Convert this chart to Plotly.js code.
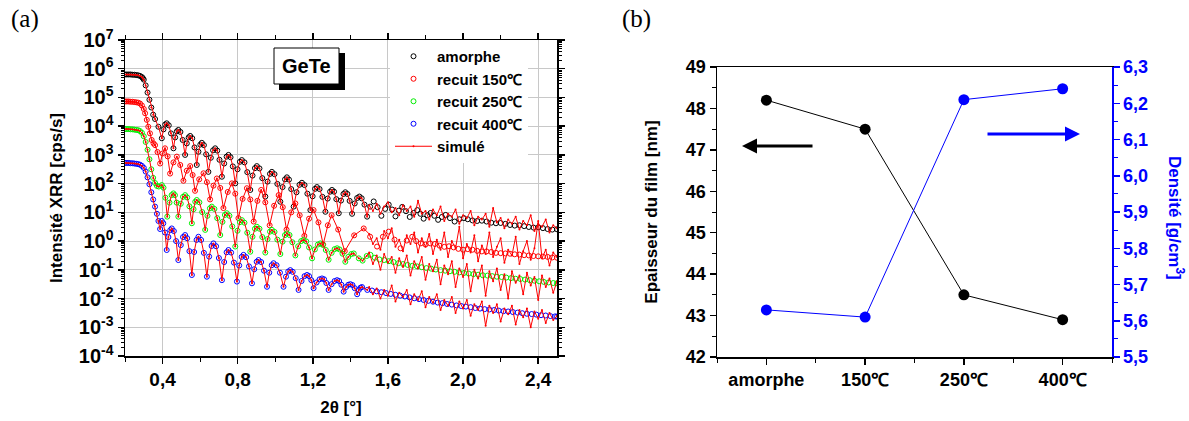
<!DOCTYPE html>
<html>
<head>
<meta charset="utf-8">
<script src="https://cdn.plot.ly/plotly-3.0.1.min.js"></script>
<style>html,body{margin:0;padding:0;background:#fff;}#chart{width:1189px;height:421px;}</style>
</head>
<body>
<div id="chart"></div>
<script>
// ---------- Panel (a) : XRR curves, pairs [2θ (°), log10(intensity cps/s)] ----------
const amorphe = [[0.20,5.80],[0.21,5.80],[0.22,5.80],[0.23,5.80],[0.24,5.79],[0.25,5.79],[0.26,5.78],[0.27,5.77],[0.28,5.75],[0.29,5.71],[0.295,5.67],[0.30,5.62],[0.31,5.42],[0.32,5.17],[0.33,4.92],[0.34,4.65],[0.35,4.40],[0.36,4.25],[0.378,3.98],[0.396,3.58],[0.405,3.89],[0.414,4.06],[0.422,4.10],[0.433,4.03],[0.445,3.75],[0.458,3.23],[0.467,3.61],[0.476,3.82],[0.484,3.87],[0.495,3.80],[0.507,3.52],[0.52,3.00],[0.529,3.40],[0.539,3.61],[0.547,3.66],[0.558,3.58],[0.57,3.26],[0.582,2.65],[0.591,3.11],[0.601,3.36],[0.609,3.42],[0.62,3.34],[0.632,3.02],[0.644,2.41],[0.657,2.90],[0.669,3.16],[0.68,3.23],[0.691,3.15],[0.703,2.83],[0.716,2.24],[0.728,2.70],[0.741,2.94],[0.751,3.00],[0.762,2.92],[0.774,2.60],[0.787,2.01],[0.799,2.50],[0.812,2.76],[0.822,2.82],[0.836,2.74],[0.851,2.40],[0.867,1.78],[0.879,2.28],[0.892,2.54],[0.902,2.61],[0.916,2.53],[0.931,2.19],[0.947,1.55],[0.959,2.07],[0.972,2.34],[0.982,2.41],[0.996,2.33],[1.011,1.99],[1.027,1.37],[1.039,1.88],[1.052,2.15],[1.062,2.22],[1.073,2.14],[1.085,1.81],[1.098,1.20],[1.113,1.70],[1.129,1.96],[1.142,2.03],[1.156,1.95],[1.171,1.65],[1.187,1.08],[1.199,1.56],[1.212,1.82],[1.222,1.88],[1.236,1.81],[1.251,1.54],[1.267,1.02],[1.279,1.48],[1.292,1.72],[1.302,1.78],[1.313,1.72],[1.325,1.46],[1.338,0.97],[1.35,1.41],[1.363,1.64],[1.373,1.70],[1.384,1.64],[1.396,1.40],[1.409,0.95],[1.423,1.31],[1.436,1.50],[1.448,1.55],[1.46,1.49],[1.475,1.27],[1.489,0.85],[1.505,1.20],[1.524,1.38],[1.545,1.18],[1.565,0.88],[1.585,1.12],[1.604,1.27],[1.622,1.10],[1.64,0.86],[1.658,1.06],[1.676,1.19],[1.696,1.04],[1.716,0.84],[1.736,0.98],[1.756,1.08],[1.773,0.95],[1.79,0.78],[1.81,0.90],[1.827,0.98],[1.847,0.88],[1.867,0.74],[1.887,0.84],[1.907,0.91],[1.93,0.80],[1.955,0.68],[1.98,0.76],[2.004,0.80],[2.025,0.76],[2.05,0.72],[2.075,0.70],[2.10,0.71],[2.125,0.68],[2.15,0.64],[2.175,0.62],[2.20,0.63],[2.225,0.60],[2.25,0.56],[2.275,0.54],[2.30,0.55],[2.325,0.52],[2.35,0.49],[2.375,0.47],[2.40,0.48],[2.425,0.45],[2.45,0.42],[2.475,0.40],[2.50,0.41]];

const recuit150 = [[0.20,4.86],[0.21,4.86],[0.22,4.86],[0.23,4.85],[0.24,4.85],[0.25,4.84],[0.26,4.83],[0.27,4.82],[0.28,4.79],[0.29,4.72],[0.30,4.60],[0.307,4.45],[0.316,4.22],[0.324,3.98],[0.333,3.75],[0.342,3.52],[0.352,3.40],[0.36,3.34],[0.373,3.10],[0.387,2.70],[0.40,3.05],[0.413,3.23],[0.427,2.95],[0.44,2.35],[0.458,2.74],[0.476,2.94],[0.494,2.65],[0.511,2.10],[0.529,2.45],[0.547,2.61],[0.56,2.30],[0.573,1.75],[0.595,2.15],[0.618,2.36],[0.636,2.05],[0.653,1.45],[0.671,1.93],[0.689,2.18],[0.707,1.85],[0.724,1.15],[0.747,1.71],[0.769,2.01],[0.787,1.65],[0.804,0.80],[0.826,1.47],[0.849,1.84],[0.867,1.45],[0.885,0.68],[0.905,1.40],[0.925,1.78],[0.947,1.35],[0.97,0.55],[0.994,1.23],[1.018,1.60],[1.04,1.18],[1.06,0.40],[1.085,1.00],[1.107,1.31],[1.13,0.90],[1.155,0.18],[1.18,0.78],[1.204,1.08],[1.23,0.65],[1.255,-0.12],[1.28,0.55],[1.30,0.90],[1.335,0.40],[1.37,-0.35],[1.42,0.20],[1.471,0.44],[1.505,0.15],[1.542,-0.19],[1.573,0.15],[1.604,0.33],[1.635,0.05],[1.667,-0.25],[1.70,0.02],[1.729,0.15],[1.75,0.00],[1.775,-0.08],[1.80,-0.12],[1.825,-0.08],[1.85,-0.10],[1.875,-0.16],[1.90,-0.20],[1.925,-0.18],[1.95,-0.22],[1.975,-0.27],[2.00,-0.30],[2.025,-0.28],[2.05,-0.30],[2.075,-0.34],[2.10,-0.36],[2.125,-0.36],[2.15,-0.38],[2.175,-0.41],[2.20,-0.42],[2.225,-0.43],[2.25,-0.44],[2.275,-0.46],[2.30,-0.47],[2.325,-0.49],[2.35,-0.50],[2.375,-0.52],[2.40,-0.53],[2.425,-0.54],[2.45,-0.55],[2.475,-0.57],[2.50,-0.58]];

const recuit250 = [[0.20,3.90],[0.21,3.90],[0.22,3.90],[0.23,3.89],[0.24,3.89],[0.25,3.88],[0.26,3.87],[0.27,3.86],[0.28,3.83],[0.29,3.77],[0.30,3.65],[0.31,3.45],[0.32,3.18],[0.33,2.85],[0.34,2.50],[0.35,2.20],[0.36,2.02],[0.37,1.92],[0.38,1.90],[0.396,1.95],[0.405,1.86],[0.415,1.51],[0.425,0.85],[0.437,1.34],[0.448,1.60],[0.458,1.66],[0.466,1.60],[0.475,1.34],[0.484,0.85],[0.497,1.30],[0.509,1.54],[0.52,1.60],[0.531,1.52],[0.543,1.21],[0.556,0.62],[0.565,1.11],[0.574,1.37],[0.582,1.43],[0.596,1.35],[0.611,1.01],[0.627,0.39],[0.639,0.88],[0.652,1.14],[0.662,1.20],[0.676,1.12],[0.691,0.80],[0.707,0.21],[0.719,0.67],[0.732,0.91],[0.742,0.97],[0.756,0.88],[0.771,0.51],[0.787,-0.19],[0.799,0.36],[0.812,0.66],[0.822,0.73],[0.836,0.64],[0.851,0.29],[0.867,-0.37],[0.879,0.15],[0.892,0.43],[0.902,0.50],[0.916,0.43],[0.931,0.14],[0.947,-0.40],[0.959,0.07],[0.972,0.33],[0.982,0.39],[0.996,0.32],[1.011,0.05],[1.027,-0.45],[1.039,-0.02],[1.052,0.21],[1.062,0.27],[1.076,0.21],[1.091,-0.04],[1.107,-0.50],[1.122,-0.18],[1.138,0.00],[1.151,0.04],[1.165,-0.01],[1.18,-0.22],[1.196,-0.60],[1.211,-0.29],[1.227,-0.12],[1.24,-0.08],[1.253,-0.13],[1.269,-0.31],[1.284,-0.65],[1.30,-0.41],[1.316,-0.28],[1.329,-0.25],[1.342,-0.29],[1.358,-0.44],[1.373,-0.72],[1.389,-0.55],[1.405,-0.45],[1.418,-0.43],[1.445,-0.60],[1.465,-0.68],[1.487,-0.52],[1.507,-0.48],[1.53,-0.58],[1.555,-0.64],[1.58,-0.66],[1.605,-0.70],[1.63,-0.73],[1.655,-0.77],[1.68,-0.80],[1.705,-0.83],[1.73,-0.86],[1.755,-0.88],[1.78,-0.91],[1.805,-0.94],[1.83,-0.96],[1.855,-0.99],[1.88,-1.01],[1.905,-1.03],[1.93,-1.05],[1.955,-1.07],[1.98,-1.09],[2.005,-1.11],[2.03,-1.13],[2.055,-1.15],[2.08,-1.17],[2.105,-1.19],[2.13,-1.20],[2.155,-1.22],[2.18,-1.24],[2.205,-1.25],[2.23,-1.27],[2.255,-1.29],[2.28,-1.31],[2.305,-1.32],[2.33,-1.34],[2.355,-1.36],[2.38,-1.38],[2.405,-1.40],[2.43,-1.42],[2.455,-1.44],[2.48,-1.46],[2.50,-1.47]];

const recuit400 = [[0.20,2.72],[0.21,2.72],[0.22,2.72],[0.23,2.71],[0.24,2.71],[0.25,2.70],[0.26,2.69],[0.27,2.68],[0.28,2.66],[0.29,2.62],[0.30,2.55],[0.31,2.42],[0.32,2.22],[0.33,1.98],[0.34,1.70],[0.35,1.45],[0.36,1.20],[0.37,0.95],[0.378,0.70],[0.387,0.42],[0.396,0.70],[0.404,0.62],[0.413,0.30],[0.422,-0.31],[0.431,0.14],[0.441,0.38],[0.449,0.44],[0.46,0.35],[0.472,0.00],[0.484,-0.66],[0.497,-0.14],[0.509,0.14],[0.52,0.21],[0.531,0.10],[0.543,-0.35],[0.556,-1.18],[0.568,-0.38],[0.581,0.04],[0.591,0.15],[0.605,0.04],[0.62,-0.41],[0.636,-1.24],[0.648,-0.54],[0.661,-0.17],[0.671,-0.08],[0.685,-0.18],[0.70,-0.59],[0.716,-1.36],[0.728,-0.73],[0.741,-0.39],[0.751,-0.31],[0.765,-0.40],[0.78,-0.75],[0.796,-1.41],[0.808,-0.85],[0.821,-0.55],[0.831,-0.48],[0.845,-0.56],[0.86,-0.88],[0.876,-1.47],[0.888,-0.98],[0.901,-0.72],[0.911,-0.66],[0.925,-0.73],[0.94,-1.03],[0.956,-1.59],[0.968,-1.10],[0.981,-0.84],[0.991,-0.77],[1.007,-0.84],[1.025,-1.10],[1.044,-1.59],[1.057,-1.24],[1.069,-1.06],[1.08,-1.01],[1.093,-1.07],[1.109,-1.29],[1.124,-1.70],[1.14,-1.39],[1.156,-1.22],[1.169,-1.18],[1.18,-1.22],[1.192,-1.36],[1.204,-1.64],[1.22,-1.44],[1.236,-1.33],[1.249,-1.30],[1.26,-1.33],[1.272,-1.46],[1.284,-1.70],[1.30,-1.50],[1.316,-1.39],[1.329,-1.36],[1.34,-1.39],[1.352,-1.52],[1.364,-1.76],[1.377,-1.60],[1.389,-1.52],[1.40,-1.50],[1.411,-1.53],[1.423,-1.64],[1.436,-1.85],[1.445,-1.70],[1.454,-1.62],[1.462,-1.60],[1.49,-1.70],[1.515,-1.72],[1.54,-1.75],[1.565,-1.78],[1.59,-1.81],[1.615,-1.84],[1.64,-1.87],[1.665,-1.90],[1.69,-1.93],[1.715,-1.96],[1.74,-1.99],[1.765,-2.02],[1.79,-2.05],[1.815,-2.08],[1.84,-2.11],[1.865,-2.14],[1.89,-2.16],[1.915,-2.19],[1.94,-2.21],[1.965,-2.24],[1.99,-2.26],[2.015,-2.28],[2.04,-2.30],[2.065,-2.33],[2.09,-2.35],[2.115,-2.37],[2.14,-2.38],[2.165,-2.40],[2.19,-2.42],[2.215,-2.44],[2.24,-2.45],[2.265,-2.47],[2.29,-2.49],[2.315,-2.51],[2.34,-2.53],[2.365,-2.54],[2.39,-2.56],[2.415,-2.58],[2.44,-2.59],[2.465,-2.61],[2.49,-2.62],[2.50,-2.63]];

// "simulé" red line: follows each curve below 1.5°, noisy beyond
const simTailAmorphe = [[1.50,1.25],[1.52,1.05],[1.54,1.30],[1.56,0.95],[1.58,1.20],[1.60,1.35],[1.62,1.00],[1.64,1.15],[1.66,0.90],[1.68,1.25],[1.70,1.05],[1.72,1.20],[1.74,0.85],[1.76,1.40],[1.78,0.95],[1.80,1.05],[1.82,0.75],[1.84,1.10],[1.86,0.90],[1.88,1.20],[1.90,0.70],[1.92,0.95],[1.94,0.85],[1.96,1.10],[1.98,0.60],[2.00,0.90],[2.02,0.80],[2.04,1.05],[2.06,0.55],[2.08,0.85],[2.10,0.75],[2.12,0.95],[2.14,0.50],[2.16,1.15],[2.18,0.65],[2.20,0.80],[2.22,0.45],[2.24,0.75],[2.26,0.60],[2.28,0.85],[2.30,0.40],[2.32,0.70],[2.34,0.55],[2.36,0.90],[2.38,0.35],[2.40,0.60],[2.42,0.50],[2.44,0.75],[2.46,0.30],[2.48,0.55],[2.50,0.45]];
const simTail150 = [[1.50,0.25],[1.52,-0.10],[1.54,0.10],[1.56,-0.30],[1.58,0.35],[1.60,0.10],[1.62,0.45],[1.64,-0.20],[1.66,0.05],[1.68,-0.35],[1.70,0.20],[1.72,-0.10],[1.74,0.30],[1.76,-0.40],[1.78,0.10],[1.80,-0.20],[1.82,0.25],[1.84,-0.45],[1.86,0.05],[1.88,-0.30],[1.90,0.30],[1.92,-0.55],[1.94,0.00],[1.96,-0.25],[1.98,0.50],[2.00,-0.60],[2.02,-0.10],[2.04,-0.40],[2.06,0.20],[2.08,-0.70],[2.10,-0.15],[2.12,-0.45],[2.14,0.30],[2.16,-0.55],[2.18,-0.20],[2.20,0.10],[2.22,-0.75],[2.24,-0.30],[2.26,-0.50],[2.28,0.15],[2.30,-0.80],[2.32,-0.35],[2.34,0.00],[2.36,-0.65],[2.38,-0.25],[2.40,0.70],[2.42,-0.60],[2.44,-0.30],[2.46,-0.85],[2.48,-0.40],[2.50,-0.55]];
const simTail250 = [[1.50,-0.40],[1.52,-0.80],[1.54,-0.50],[1.56,-1.00],[1.58,-0.45],[1.60,-0.75],[1.62,-0.55],[1.64,-1.10],[1.66,-0.60],[1.68,-0.90],[1.70,-0.50],[1.72,-1.20],[1.74,-0.70],[1.76,-0.95],[1.78,-0.55],[1.80,-1.35],[1.82,-0.80],[1.84,-1.05],[1.86,-0.65],[1.88,-1.50],[1.90,-0.85],[1.92,-1.15],[1.94,-0.70],[1.96,-1.60],[1.98,-0.95],[2.00,-1.25],[2.02,-0.80],[2.04,-1.75],[2.06,-1.00],[2.08,-1.30],[2.10,-0.85],[2.12,-1.90],[2.14,-1.05],[2.16,-1.40],[2.18,-0.95],[2.20,-1.70],[2.22,-1.15],[2.24,-2.00],[2.26,-1.05],[2.28,-1.45],[2.30,-1.20],[2.32,-1.85],[2.34,-1.10],[2.36,-1.55],[2.38,-1.25],[2.40,-2.05],[2.42,-1.20],[2.44,-1.60],[2.46,-1.30],[2.48,-1.80],[2.50,-1.40]];
const simTail400 = [[1.50,-1.60],[1.52,-1.85],[1.54,-1.65],[1.56,-2.00],[1.58,-1.70],[1.60,-1.90],[1.62,-1.55],[1.64,-2.10],[1.66,-1.80],[1.68,-1.95],[1.70,-1.70],[1.72,-2.20],[1.74,-1.85],[1.76,-2.05],[1.78,-1.75],[1.80,-2.30],[1.82,-1.95],[1.84,-2.15],[1.86,-1.85],[1.88,-2.40],[1.90,-2.05],[1.92,-2.25],[1.94,-1.95],[1.96,-2.50],[1.98,-2.10],[2.00,-2.35],[2.02,-2.05],[2.04,-2.60],[2.06,-2.20],[2.08,-2.40],[2.10,-2.10],[2.12,-2.95],[2.14,-2.25],[2.16,-2.50],[2.18,-2.20],[2.20,-2.80],[2.22,-2.35],[2.24,-2.55],[2.26,-2.25],[2.28,-2.90],[2.30,-2.40],[2.32,-2.65],[2.34,-2.35],[2.36,-3.00],[2.38,-2.45],[2.40,-2.70],[2.42,-2.40],[2.44,-2.85],[2.46,-2.50],[2.48,-2.75],[2.50,-2.60]];

const seriesNames = ['amorphe', 'recuit 150℃', 'recuit 250℃', 'recuit 400℃'];
const seriesColors = ['#000000', '#ff0000', '#00ee00', '#0000ff'];
const xTickVals = [0.4, 0.8, 1.2, 1.6, 2.0, 2.4];
const xTickText = ['0,4', '0,8', '1,2', '1,6', '2,0', '2,4'];
const yExponents = [-4, -3, -2, -1, 0, 1, 2, 3, 4, 5, 6, 7];

// ---------- Panel (b) ----------
const categories = ['amorphe', '150℃', '250℃', '400℃'];
const epaisseur = [48.2, 47.5, 43.5, 42.9];      // nm
const densite = [5.63, 5.61, 6.21, 6.24];         // g/cm3
const densTickVals = [5.5, 5.6, 5.7, 5.8, 5.9, 6.0, 6.1, 6.2, 6.3];
const densTickText = ['5,5', '5,6', '5,7', '5,8', '5,9', '6,0', '6,1', '6,2', '6,3'];

// ---------- build ----------
const FONT = 'Liberation Sans, Arial, sans-serif';
const W = 1189, H = 421;
const px = v => v / W;
const py = v => 1 - v / H;
const xs = a => a.map(p => p[0]);
const ys = a => a.map(p => Math.pow(10, p[1]));

const dataSets = [amorphe, recuit150, recuit250, recuit400];
const simTails = [simTailAmorphe, simTail150, simTail250, simTail400];

const traces = [];
dataSets.forEach((d, i) => {
  traces.push({
    type: 'scatter', mode: 'markers', name: seriesNames[i],
    x: xs(d), y: ys(d), xaxis: 'x', yaxis: 'y',
    marker: {symbol: 'circle-open', size: 5, color: seriesColors[i], line: {width: 1, color: seriesColors[i]}}
  });
});
dataSets.forEach((d, i) => {
  const sim = d.filter(p => p[0] < 1.5).concat(simTails[i]);
  traces.push({
    type: 'scatter', mode: 'lines+markers', name: 'simulé',
    legendgroup: 'sim', showlegend: i === 0,
    x: xs(sim), y: ys(sim), xaxis: 'x', yaxis: 'y',
    line: {color: '#ff0000', width: 1},
    marker: {size: 2, color: '#ff0000'}
  });
});

const idx = categories.map((c, i) => i);
traces.push({
  type: 'scatter', mode: 'lines+markers', x: idx, y: epaisseur, xaxis: 'x2', yaxis: 'y2',
  line: {color: '#000000', width: 1}, marker: {size: 11, color: '#000000'}, showlegend: false
});
traces.push({
  type: 'scatter', mode: 'lines+markers', x: idx, y: densite, xaxis: 'x2', yaxis: 'y3',
  line: {color: '#0000ff', width: 1}, marker: {size: 11, color: '#0000ff'}, showlegend: false
});

const bold = (size, color) => ({family: FONT, size: size, weight: 'bold', color: color || '#000'});

const layout = {
  width: W, height: H, autosize: false,
  margin: {l: 0, r: 0, t: 0, b: 0},
  paper_bgcolor: '#fff', plot_bgcolor: '#fff',
  showlegend: true,
  legend: {
    x: px(390), y: py(40), xanchor: 'left', yanchor: 'top',
    bgcolor: '#fff', borderwidth: 0, font: bold(15),
    itemwidth: 37, tracegroupgap: 0
  },
  xaxis: {
    domain: [px(125), px(557)], anchor: 'y', range: [0.2, 2.5],
    showline: true, linecolor: '#000', linewidth: 1.5, mirror: 'allticks',
    ticks: 'outside', ticklen: 6, tickwidth: 1.5, tickcolor: '#000',
    tickmode: 'array', tickvals: xTickVals, ticktext: xTickText,
    showgrid: true, gridcolor: '#c8c8c8', gridwidth: 1, zeroline: false,
    minor: {ticks: 'outside', ticklen: 4, tickwidth: 1, tickcolor: '#000', dtick: 0.2, tick0: 0.2, showgrid: false},
    tickfont: bold(19),
    title: {text: '2θ [°]', font: bold(17), standoff: 12}
  },
  yaxis: {
    domain: [py(356), py(40)], anchor: 'x', type: 'log', range: [-4, 7],
    showline: true, linecolor: '#000', linewidth: 1.5, mirror: 'allticks',
    ticks: 'outside', ticklen: 6, tickwidth: 1.5, tickcolor: '#000',
    tickmode: 'array', tickvals: yExponents.map(e => Math.pow(10, e)),
    ticktext: yExponents.map(e => '10<sup>' + e + '</sup>'),
    showgrid: true, gridcolor: '#c8c8c8', gridwidth: 1, zeroline: false,
    minor: {ticks: 'outside', ticklen: 3, tickwidth: 1, tickcolor: '#000', dtick: 'D1', showgrid: false},
    tickfont: bold(20),
    title: {text: 'Intensité XRR [cps/s]', font: bold(17), standoff: 12}
  },
  xaxis2: {
    domain: [px(717), px(1112)], anchor: 'y2', range: [-0.5, 3.5],
    showline: true, linecolor: '#000', linewidth: 1.5, mirror: true,
    ticks: 'outside', ticklen: 6, tickwidth: 1.5, tickcolor: '#000',
    tickmode: 'array', tickvals: idx, ticktext: categories,
    minor: {ticks: 'outside', ticklen: 4, tickwidth: 1, tickcolor: '#000', dtick: 0.5, tick0: 0.5},
    showgrid: false, zeroline: false, tickfont: bold(18)
  },
  yaxis2: {
    domain: [py(357), py(67)], anchor: 'x2', range: [42, 49], dtick: 1, tick0: 42,
    showline: true, linecolor: '#000', linewidth: 1.5,
    ticks: 'outside', ticklen: 6, tickwidth: 1.5, tickcolor: '#000',
    minor: {ticks: 'outside', ticklen: 4, tickwidth: 1, tickcolor: '#000', dtick: 0.5},
    showgrid: false, zeroline: false, tickfont: bold(18),
    title: {text: 'Epaisseur du film [nm]', font: bold(17), standoff: 24}
  },
  yaxis3: {
    overlaying: 'y2', side: 'right', anchor: 'x2', range: [5.5, 6.3],
    tickmode: 'array', tickvals: densTickVals, ticktext: densTickText,
    showline: true, linecolor: '#0000ff', linewidth: 1.5,
    ticks: 'outside', ticklen: 6, tickwidth: 1.5, tickcolor: '#0000ff',
    minor: {ticks: 'outside', ticklen: 4, tickwidth: 1, tickcolor: '#0000ff', dtick: 0.05, tick0: 5.5},
    showgrid: false, zeroline: false, tickfont: bold(18, '#0000ff')
  },
  shapes: [
    {type: 'rect', xref: 'paper', yref: 'paper', x0: px(279), x1: px(345), y0: py(90), y1: py(53),
     fillcolor: '#000', line: {width: 0}, layer: 'above'},
    {type: 'rect', xref: 'paper', yref: 'paper', x0: px(274), x1: px(339), y0: py(84), y1: py(48),
     fillcolor: '#fff', line: {width: 1, color: '#000'}, layer: 'above'}
  ],
  annotations: [
    {text: 'GeTe', xref: 'paper', yref: 'paper', x: px(306.5), y: py(66), showarrow: false,
     font: bold(20), xanchor: 'center', yanchor: 'middle'},
    {text: '(a)', xref: 'paper', yref: 'paper', x: px(9), y: py(19), showarrow: false,
     font: {family: 'Liberation Serif, Times New Roman, serif', size: 25, color: '#000'}, xanchor: 'left', yanchor: 'middle'},
    {text: '(b)', xref: 'paper', yref: 'paper', x: px(620), y: py(19), showarrow: false,
     font: {family: 'Liberation Serif, Times New Roman, serif', size: 25, color: '#000'}, xanchor: 'left', yanchor: 'middle'},
    {text: 'Densité [g/cm<sup>3</sup>]', xref: 'paper', yref: 'paper', x: px(1176), y: py(218), showarrow: false,
     textangle: 90, font: bold(17, '#0000ff'), xanchor: 'center', yanchor: 'middle'},
    {text: '', xref: 'paper', yref: 'paper', x: px(742), y: py(146), ax: 72, ay: 0,
     showarrow: true, arrowhead: 2, arrowsize: 1, arrowwidth: 3, arrowcolor: '#000'},
    {text: '', xref: 'paper', yref: 'paper', x: px(1080), y: py(134), ax: -94, ay: 0,
     showarrow: true, arrowhead: 2, arrowsize: 1, arrowwidth: 3, arrowcolor: '#0000ff'}
  ]
};

Plotly.newPlot('chart', traces, layout, {displayModeBar: false, staticPlot: true});
</script>
</body>
</html>
